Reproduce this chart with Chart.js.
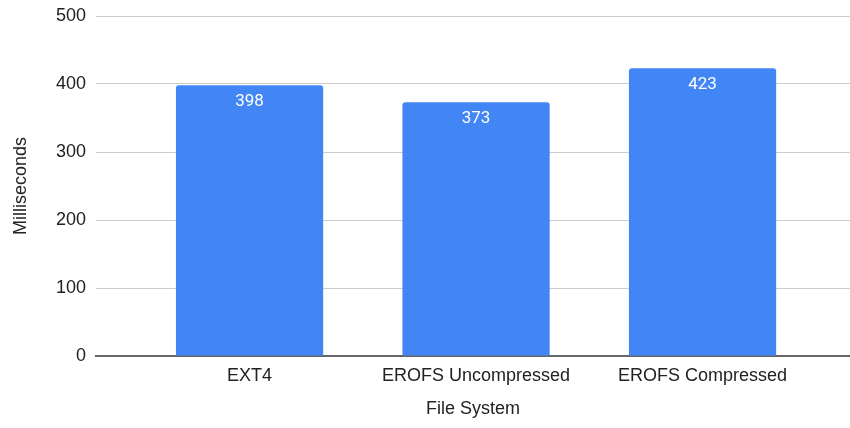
<!DOCTYPE html>
<html>
<head>
<meta charset="utf-8">
<script src="https://cdn.jsdelivr.net/npm/chart.js@4/dist/chart.umd.min.js"></script>
<style>
  html, body { margin: 0; padding: 0; background: #ffffff; }
  #wrap { width: 850px; height: 428px; position: relative; }
</style>
</head>
<body>
<div id="wrap"><canvas id="chart" width="850" height="428"></canvas></div>
<script>
// Boot time per file system (ms)
const fileSystems = ['EXT4', 'EROFS Uncompressed', 'EROFS Compressed'];
const milliseconds = [398, 373, 423];
const yTicks = [0, 100, 200, 300, 400, 500];

const AXIS_FONT = '"Liberation Sans", Arial, Helvetica, sans-serif';

// Writes each bar's value in white just inside its top edge
const barValueLabels = {
  id: 'barValueLabels',
  afterDatasetsDraw(chart) {
    const ctx = chart.ctx;
    const meta = chart.getDatasetMeta(0);
    ctx.save();
    ctx.fillStyle = '#ffffff';
    ctx.font = '17px Roboto, "Liberation Sans", sans-serif';
    ctx.textAlign = 'center';
    ctx.textBaseline = 'alphabetic';
    meta.data.forEach((bar, i) => {
      ctx.fillText(String(milliseconds[i]), bar.x, bar.y + 21);
    });
    ctx.restore();
  }
};

new Chart(document.getElementById('chart'), {
  type: 'bar',
  data: {
    datasets: [{
      data: milliseconds.map((v, i) => ({ x: i, y: v })),
      backgroundColor: '#4285F4',
      borderRadius: { topLeft: 3, topRight: 3, bottomLeft: 0, bottomRight: 0 },
      borderSkipped: 'bottom',
      categoryPercentage: 1.0,
      barPercentage: 0.65
    }]
  },
  options: {
    responsive: false,
    animation: false,
    devicePixelRatio: 1,
    layout: { padding: { top: 16, right: 0, bottom: 0, left: 0 } },
    plugins: {
      legend: { display: false },
      tooltip: { enabled: false }
    },
    scales: {
      x: {
        type: 'linear',
        offset: false,
        min: -0.678,
        max: 2.651,
        afterBuildTicks(scale) {
          scale.ticks = fileSystems.map((_, i) => ({ value: i }));
        },
        afterFit(scale) { scale.height = 72; },
        grid: { display: false, drawTicks: false, offset: false },
        border: { display: true, color: '#666666', width: 2 },
        ticks: {
          color: '#222222',
          padding: 9,
          autoSkip: false,
          maxRotation: 0,
          callback: (v) => fileSystems[v],
          font: { family: AXIS_FONT, size: 18 }
        },
        title: {
          display: true,
          text: 'File System',
          color: '#222222',
          padding: { top: 0, bottom: 8 },
          font: { family: AXIS_FONT, size: 18 }
        }
      },
      y: {
        min: 0,
        max: 500,
        afterBuildTicks(scale) {
          scale.ticks = yTicks.map(v => ({ value: v }));
        },
        afterFit(scale) {
          scale.width = 96;
          scale.paddingTop = 0;
          scale.paddingBottom = 0;
        },
        grid: {
          color: '#cccccc',
          lineWidth: 1,
          drawTicks: false
        },
        border: { display: false },
        ticks: {
          color: '#222222',
          padding: 10,
          font: { family: AXIS_FONT, size: 18 }
        },
        title: {
          display: true,
          text: 'Milliseconds',
          color: '#222222',
          padding: { top: 10, bottom: 0 },
          font: { family: AXIS_FONT, size: 18 }
        }
      }
    }
  },
  plugins: [barValueLabels]
});
</script>
</body>
</html>
